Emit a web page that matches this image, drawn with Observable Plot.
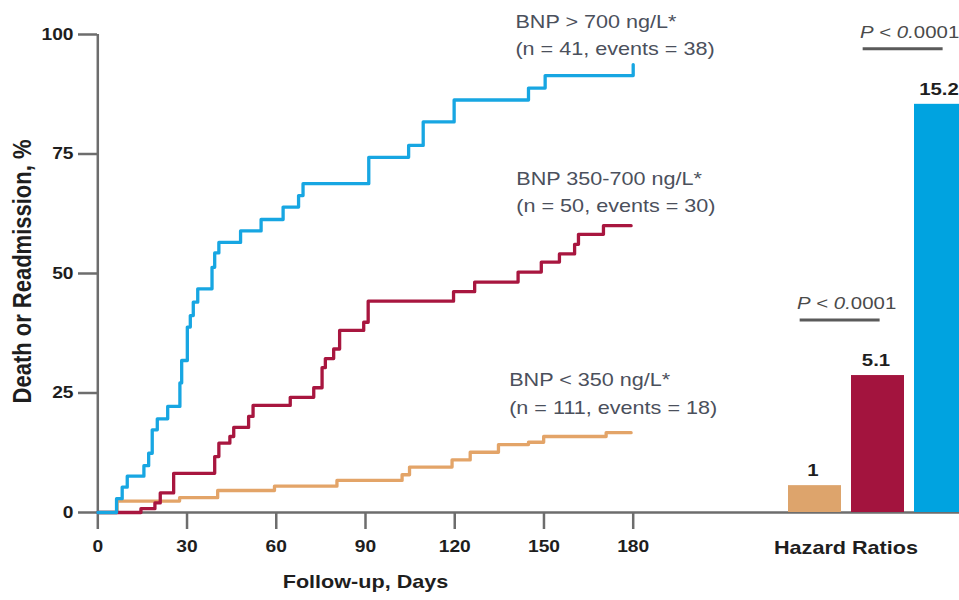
<!DOCTYPE html>
<html><head><meta charset="utf-8">
<script src="https://cdn.jsdelivr.net/npm/d3@7"></script>
<script src="https://cdn.jsdelivr.net/npm/@observablehq/plot@0.6"></script>
<style>
html,body{margin:0;padding:0;background:#fff;overflow:hidden;}
#chart{position:relative;width:959px;height:600px;overflow:hidden;background:#fff;}
#chart svg{position:absolute;left:0;top:0;}
</style></head><body><div id="chart"></div>
<script>
// ---------- data ----------
const groups = ["BNP < 350 ng/L", "BNP 350-700 ng/L", "BNP > 700 ng/L"];
const groupLabels = [
  "BNP < 350 ng/L*\n(n = 111, events = 18)",
  "BNP 350-700 ng/L*\n(n = 50, events = 30)",
  "BNP > 700 ng/L*\n(n = 41, events = 38)"
];
const lowDays = [0, 6.5, 27.5, 40.3, 59.4, 80.4, 102.3, 104.8, 119.1, 125.2, 134.7, 144.8, 149.9, 170.9, 179.3];
const lowPct  = [0, 2.4, 3.1, 4.6, 5.5, 6.7, 7.9, 9.5, 11.0, 12.6, 14.2, 14.7, 15.9, 16.7, 16.7];
const midDays = [0, 14.5, 19.2, 21.0, 25.5, 39.3, 40.7, 44.4, 45.7, 50.7, 52.2, 64.7, 72.6, 75.4, 76.5, 79.3, 81.3, 89.4, 90.9, 119.6, 126.7, 141.3, 149.1, 155.2, 160.3, 161.6, 170.0, 179.3];
const midPct  = [0, 0.8, 2.0, 4.1, 8.2, 11.7, 14.5, 15.9, 17.8, 20.1, 22.4, 24.1, 26.1, 30.3, 32.2, 34.2, 38.1, 39.8, 44.2, 46.2, 48.2, 50.3, 52.4, 54.1, 56.1, 58.2, 60.0, 60.0];
const highDays = [0, 6.3, 8.2, 9.9, 15.5, 17.1, 18.3, 20.0, 23.5, 27.6, 28.2, 30.1, 31.1, 32.1, 33.6, 38.4, 39.3, 40.7, 48.0, 54.9, 62.3, 67.5, 69.0, 91.1, 104.5, 109.4, 119.8, 144.8, 150.4, 180];
const highPct  = [0, 2.9, 5.3, 7.6, 9.8, 12.4, 17.3, 19.6, 22.2, 27.1, 31.8, 38.8, 41.2, 44.0, 46.8, 51.3, 54.3, 56.5, 58.9, 61.3, 63.9, 66.3, 68.8, 74.3, 76.8, 81.7, 86.3, 88.8, 91.4, 93.7];
const xTicks = [0, 30, 60, 90, 120, 150, 180];
const yTicks = [0, 25, 50, 75, 100];
const hazardRatios = [1, 5.1, 15.2];
const hazardLabels = ["1", "5.1", "15.2"];
const pLabels = ["P < 0.0001", "P < 0.0001"];
const comparisonFrom = [groups[0], groups[1]];
const comparisonTo = [groups[1], groups[2]];

// ---------- styles ----------
const lineColors = ["#e3a468", "#a8163f", "#17a6e2"];
const barColors = ["#dda46c", "#a3143e", "#00a3e0"];
const axisColor = "#6d6d6d";
const font = "'Liberation Sans', Arial, Helvetica, sans-serif";

// ---------- tables ----------
const series = [[lowDays, lowPct], [midDays, midPct], [highDays, highPct]];
const rows = [];
series.forEach(([ds, ps], i) => ds.forEach((d, j) => rows.push({group: groups[i], day: d, pct: ps[j]})));
const labelPos = [{x: 138.3, y: 25.4}, {x: 140.7, y: 67.5}, {x: 140.4, y: 100.3}];
const labelRows = groupLabels.map((t, i) => ({text: t, ...labelPos[i]}));
const hrRows = groups.map((g, i) => ({group: g, hr: hazardRatios[i], label: hazardLabels[i]}));
const compRows = pLabels.map((p, i) => {
  const hi = Math.max(hazardRatios[groups.indexOf(comparisonFrom[i])], hazardRatios[groups.indexOf(comparisonTo[i])]);
  return {p, from: comparisonFrom[i], to: comparisonTo[i], line: hi + 2.05};
});

const chart = document.getElementById("chart");

const left = Plot.plot({
  width: 959, height: 600,
  marginTop: 34, marginBottom: 88, marginLeft: 97, marginRight: 0,
  style: {fontFamily: font, background: "transparent", overflow: "visible"},
  x: {domain: [0, 180], range: [97.3, 632.7]},
  y: {domain: [0, 100], range: [512, 34]},
  color: {domain: groups, range: lineColors},
  marks: [
    Plot.ruleY([0], {stroke: axisColor, strokeWidth: 2.5}),
    Plot.ruleX([0], {stroke: axisColor, strokeWidth: 2.5}),
    Plot.axisY({ticks: yTicks, tickSize: 19, tickPadding: 5, stroke: axisColor, strokeWidth: 2.5,
      fill: "#1e1e1e", fontSize: 16, fontWeight: "bold", label: null, tickFormat: d => String(d)}),
    Plot.axisX({ticks: xTicks, tickSize: 17, tickPadding: 11, stroke: axisColor, strokeWidth: 2.5,
      fill: "#1e1e1e", fontSize: 16, fontWeight: "bold", label: null, tickFormat: d => String(d)}),
    Plot.line(rows, {x: "day", y: "pct", z: "group", stroke: "group", curve: "step-after", strokeWidth: 3.3}),
    Plot.text(labelRows, {x: "x", y: "y", text: "text", textAnchor: "start", lineAnchor: "middle",
      lineHeight: 1.52, fontSize: 18, fill: "#4b505c"}),
    Plot.text(["Follow-up, Days"], {x: () => 90, frameAnchor: "bottom", dy: 75, fontSize: 18, fontWeight: "bold", fill: "#1e1e1e"}),
    Plot.text(["Death or Readmission, %"], {frameAnchor: "left", textAnchor: "middle", dx: -75, dy: -2, rotate: -90, fontSize: 22, fontWeight: "bold", fill: "#1e1e1e"})
  ]
});

function underlines(index, scales) {
  const x = scales.x, y = scales.y;
  let bw = 53.5;
  if (typeof x.bandwidth === "function") bw = x.bandwidth();
  else if (scales.scales && scales.scales.x && scales.scales.x.bandwidth) bw = scales.scales.x.bandwidth;
  const g = d3.create("svg:g");
  compRows.forEach(c => {
    const yy = y(c.line);
    g.append("line")
      .attr("x1", x(c.from) + 0.22 * bw).attr("x2", x(c.to) + 0.54 * bw)
      .attr("y1", yy).attr("y2", yy)
      .attr("stroke", "#5a5a5a").attr("stroke-width", 3);
  });
  return g.node();
}

const right = Plot.plot({
  width: 959, height: 600,
  marginTop: 34, marginBottom: 88, marginLeft: 0, marginRight: 0,
  style: {fontFamily: font, background: "transparent", overflow: "visible"},
  x: {type: "band", domain: groups, range: [787, 967.3], paddingInner: 0.157, paddingOuter: 0, axis: null},
  y: {domain: [0, 17.8], range: [512, 34], axis: null},
  color: {domain: groups, range: barColors},
  marks: [
    Plot.barY(hrRows, {x: "group", y: "hr", fill: "group"}),
    Plot.text(hrRows, {x: "group", y: "hr", text: "label", dx: -2, dy: -15, fontSize: 17, fontWeight: "bold", fill: "#1e1e1e"}),
    Plot.text(compRows, {x: "from", y: "line", text: "p", textAnchor: "start", dx: -18, dy: -17, fontSize: 17, fill: "#4a4a4a"}),
    underlines,
    Plot.text(["Hazard Ratios"], {x: () => groups[1], frameAnchor: "bottom", dx: -32, dy: 41, fontSize: 18, fontWeight: "bold", fill: "#1e1e1e"})
  ]
});

function finish(svg) {
  svg.querySelectorAll("text").forEach(t => {
    if (t.textContent === "P < 0.0001") {
      t.textContent = "";
      const parts = [["P", true], [" < ", false], ["0.", true], ["0001", false]];
      parts.forEach(([s, it]) => {
        const ts = document.createElementNS("http://www.w3.org/2000/svg", "tspan");
        ts.textContent = s;
        if (it) ts.setAttribute("font-style", "italic");
        t.appendChild(ts);
      });
    }
    let tr = t.getAttribute("transform");
    if (!tr) {
      const x = t.getAttribute("x") || 0, y = t.getAttribute("y") || 0;
      t.removeAttribute("x"); t.removeAttribute("y");
      tr = `translate(${x},${y})`;
    }
    t.setAttribute("transform", tr + (tr.includes("rotate") ? " scale(1,1.18)" : " scale(1.2,1)"));
  });
}
finish(left); finish(right);
chart.appendChild(left);
chart.appendChild(right);
</script></body></html>
